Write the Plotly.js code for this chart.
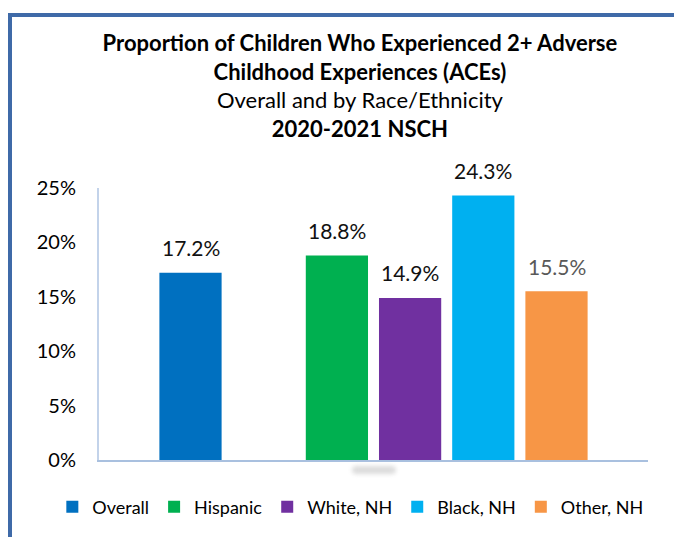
<!DOCTYPE html>
<html><head><meta charset="utf-8">
<script src="https://cdn.plot.ly/plotly-3.0.1.min.js"></script>
<style>
html,body{margin:0;padding:0;background:#fff;}
#wrap{position:relative;width:674px;height:537px;overflow:hidden;}
#chart{width:674px;height:537px;}
#frame{position:absolute;left:8px;top:13px;width:700px;height:600px;border-top:4px solid #3F6AA8;border-left:4px solid #3F6AA8;pointer-events:none;}
#blur{position:absolute;left:352px;top:466px;width:44px;height:8px;background:#dcdcdc;filter:blur(2px);border-radius:4px;pointer-events:none;}
</style></head><body>
<div id="wrap"><div id="chart"></div><div id="frame"></div><div id="blur"></div></div>
<script>
const categories = ["Overall", "Hispanic", "White, NH", "Black, NH", "Other, NH"];
const values = [17.2, 18.8, 14.9, 24.3, 15.5];
const valueLabels = ["17.2%", "18.8%", "14.9%", "24.3%", "15.5%"];
const colors = ["#0070C0", "#00B050", "#7030A0", "#00B0F0", "#F79646"];
const labelColors = ["#111111", "#111111", "#111111", "#111111", "#595959"];
const axisOrder = ["Overall", " ", "Hispanic", "White, NH", "Black, NH", "Other, NH"];
const yTicks = [0, 5, 10, 15, 20, 25];
const yTickText = ["0%", "5%", "10%", "15%", "20%", "25%"];

const FONT = "Lato, 'Open Sans', sans-serif";
const traces = categories.map((c, i) => ({
  type: "bar",
  x: [c],
  y: [values[i]],
  name: c,
  width: 0.85,
  marker: {color: colors[i], line: {width: 0}},
  hoverinfo: "name+y"
}));
traces.push({type: "bar", x: [" "], y: [null], showlegend: false, hoverinfo: "skip"});

const annotations = categories.map((c, i) => ({
  x: c, y: values[i], xref: "x", yref: "y",
  text: valueLabels[i], showarrow: false,
  yanchor: "middle", yshift: 25,
  font: {family: FONT, size: 21, color: labelColors[i]}
}));

const layout = {
  width: 674, height: 537,
  paper_bgcolor: "#ffffff", plot_bgcolor: "#ffffff",
  margin: {l: 99, r: 26, t: 188, b: 77},
  barmode: "overlay",
  showlegend: true,
  title: {
    text: "<b>Proportion of Children Who Experienced 2+ Adverse</b><br><b>Childhood Experiences (ACEs)</b><br>Overall and by Race/Ethnicity<br><b>2020-2021 NSCH</b>",
    x: 0.534, xanchor: "center", xref: "container",
    y: 0.905, yanchor: "top", yref: "container",
    font: {family: FONT, size: 22, color: "#000000"}
  },
  xaxis: {
    type: "category", categoryorder: "array", categoryarray: axisOrder,
    range: [-1.25, 6.25], showticklabels: false, ticks: "",
    showline: true, linecolor: "#A9C0DF", linewidth: 2,
    showgrid: false, zeroline: false, fixedrange: true
  },
  yaxis: {
    range: [0, 25], tickmode: "array", tickvals: yTicks, ticktext: yTickText,
    showgrid: false, zeroline: false, ticks: "",
    showline: true, linecolor: "#C3D3EA", linewidth: 2,
    ticklabelstandoff: 17,
    tickfont: {family: FONT, size: 20, color: "#000000"},
    fixedrange: true
  },
  legend: {
    orientation: "h", xref: "paper", x: -0.085, xanchor: "left",
    yref: "paper", y: -0.173, yanchor: "middle",
    font: {family: FONT, size: 18, color: "#000000"},
    itemwidth: 30, bgcolor: "rgba(0,0,0,0)"
  },
  annotations: annotations
};

Plotly.newPlot("chart", traces, layout, {displayModeBar: false, staticPlot: true});
</script>
</body></html>
